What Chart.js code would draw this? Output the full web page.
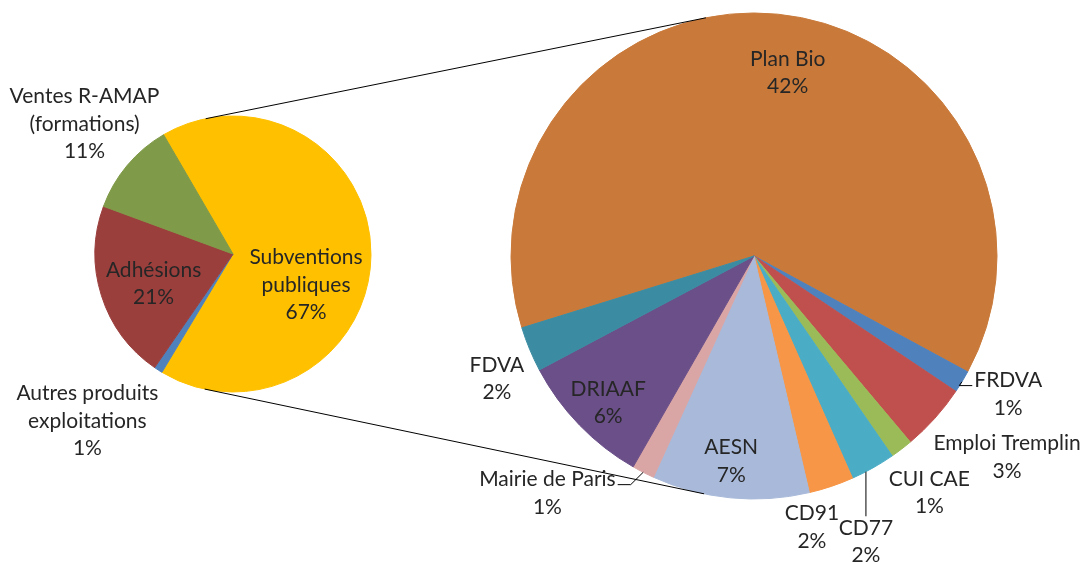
<!DOCTYPE html>
<html>
<head>
<meta charset="utf-8">
<script src="https://cdn.jsdelivr.net/npm/chart.js@4.4.1/dist/chart.umd.min.js"></script>
<style>
  html, body { margin: 0; background: #fff; }
  #wrap { position: relative; width: 1088px; height: 562px; }
  #wrap canvas { position: absolute; left: 0; top: 0; }
</style>
</head>
<body>
<div id="wrap">
  <canvas id="pie-main" width="1088" height="562"></canvas>
  <canvas id="pie-detail" width="1088" height="562"></canvas>
</div>
<script>
// main pie: share of total income (%)
const mainLabels = [['Subventions', 'publiques'], ['Autres produits', 'exploitations'], ['Adhésions'], ['Ventes R-AMAP', '(formations)']];
const mainValues = [67, 1, 21, 11];
const mainColors = ['#FFC000', '#4F81BD', '#9B3F3D', '#7F9A48'];

// detail pie: what makes up "Subventions publiques" (% of total)
const detailLabels = ['Plan Bio', 'FRDVA', 'Emploi Tremplin', 'CUI CAE', 'CD77', 'CD91', 'AESN', 'Mairie de Paris', 'DRIAAF', 'FDVA'];
const detailValues = [42, 1, 3, 1, 2, 2, 7, 1, 6, 2];
const detailColors = ['#C97A3A', '#4F81BD', '#C0504D', '#9BBB59', '#4BACC6', '#F79646', '#A8B9D9', '#D9A5A5', '#6A4F88', '#3B8CA2'];

// label placement: k = fraction of radius, da = angle nudge (deg) from the slice middle
const mainPlace = [
  { k: 0.575, da: 22.6 },
  { k: 1.605, da: 8.3 },
  { k: 0.614, da: -2.8 },
  { k: 1.43, da: 1.2 }
];
const detailPlace = [
  { k: 0.766, da: 4.8 },
  { k: 1.191, da: -2.6, leader: 'left' },
  { k: 1.331, da: -3.4 },
  { k: 1.212, da: 0.8 },
  { k: 1.263, da: 7.9, leader: 'top' },
  { k: 1.142, da: 6.5 },
  { k: 0.849, da: 0.7 },
  { k: 1.295, da: 13.9, leader: 'right' },
  { k: 0.851, da: -1.1 },
  { k: 1.172, da: -2.9 }
];

const LABEL_FONT = '21px Lato, "Liberation Sans", sans-serif';
const LINE_H = 27.5;

function drawLeader(ctx, arc, p, cx, top, firstW) {
  const mid = (arc.startAngle + arc.endAngle) / 2;
  const r = arc.outerRadius;
  ctx.beginPath();
  if (p.leader === 'top') {
    const y0 = arc.y + Math.sqrt(Math.max(r * r - (cx - arc.x) * (cx - arc.x), 0));
    ctx.moveTo(cx, y0);
    ctx.lineTo(cx, top - LINE_H / 2 + 2);
  } else {
    const sx = arc.x + Math.cos(mid) * r;
    const sy = arc.y + Math.sin(mid) * r;
    const dir = p.leader === 'left' ? -1 : 1;
    const ex = cx + dir * (firstW / 2 + 2);
    const ey = top + 5;
    ctx.moveTo(sx, sy);
    ctx.lineTo(ex + dir * 13, ey);
    ctx.lineTo(ex, ey);
  }
  ctx.stroke();
}

const sliceLabels = {
  id: 'sliceLabels',
  afterDatasetsDraw(chart, args, opts) {
    const ctx = chart.ctx;
    const arcs = chart.getDatasetMeta(0).data;
    const labels = chart.data.labels;
    const values = chart.data.datasets[0].data;
    ctx.save();
    ctx.font = LABEL_FONT;
    ctx.fillStyle = '#262626';
    ctx.strokeStyle = '#000';
    ctx.lineWidth = 1;
    ctx.textAlign = 'center';
    ctx.textBaseline = 'middle';
    arcs.forEach((arc, i) => {
      const p = opts.place[i];
      const mid = (arc.startAngle + arc.endAngle) / 2 + p.da * Math.PI / 180;
      const cx = arc.x + Math.cos(mid) * arc.outerRadius * p.k;
      const cy = arc.y + Math.sin(mid) * arc.outerRadius * p.k;
      const lines = [].concat(labels[i], values[i] + '%');
      const top = cy - (lines.length - 1) * LINE_H / 2;
      lines.forEach((t, j) => ctx.fillText(t, cx, top + j * LINE_H));
      if (p.leader) drawLeader(ctx, arc, p, cx, top, ctx.measureText(lines[0]).width);
    });
    ctx.restore();
  }
};

const mainChart = new Chart(document.getElementById('pie-main'), {
  type: 'pie',
  data: {
    labels: mainLabels,
    datasets: [{ data: mainValues, backgroundColor: mainColors, borderColor: mainColors, borderWidth: 1, radius: 138 }]
  },
  options: {
    responsive: false,
    animation: false,
    devicePixelRatio: 1,
    rotation: -30.2,
    layout: { padding: { left: 0, right: 622, top: 0, bottom: 54 } },
    plugins: {
      legend: { display: false },
      tooltip: { enabled: false },
      sliceLabels: { place: mainPlace }
    }
  },
  plugins: [sliceLabels]
});

// the two lines joining the pies (outer tangents of both circles)
const connectors = {
  id: 'connectors',
  afterDraw(chart) {
    const a = mainChart.getDatasetMeta(0).data[0];
    const b = chart.getDatasetMeta(0).data[0];
    if (!a || !b) return;
    const dx = b.x - a.x, dy = b.y - a.y;
    const d = Math.hypot(dx, dy);
    const ux = dx / d, uy = dy / d;
    const c = (a.outerRadius - b.outerRadius) / d;
    const s = Math.sqrt(1 - c * c);
    const ctx = chart.ctx;
    ctx.save();
    ctx.strokeStyle = '#000';
    ctx.lineWidth = 1;
    [1, -1].forEach(sign => {
      const nx = c * ux - sign * s * uy;
      const ny = c * uy + sign * s * ux;
      ctx.beginPath();
      ctx.moveTo(a.x + a.outerRadius * nx, a.y + a.outerRadius * ny);
      ctx.lineTo(b.x + b.outerRadius * nx, b.y + b.outerRadius * ny);
      ctx.stroke();
    });
    ctx.restore();
  }
};

new Chart(document.getElementById('pie-detail'), {
  type: 'pie',
  data: {
    labels: detailLabels,
    datasets: [{ data: detailValues, backgroundColor: detailColors, borderColor: detailColors, borderWidth: 1, radius: 243 }]
  },
  options: {
    responsive: false,
    animation: false,
    devicePixelRatio: 1,
    rotation: 252.8,
    layout: { padding: { left: 420, right: 0, top: 0, bottom: 50 } },
    plugins: {
      legend: { display: false },
      tooltip: { enabled: false },
      sliceLabels: { place: detailPlace }
    }
  },
  plugins: [sliceLabels, connectors]
});
</script>
</body>
</html>
